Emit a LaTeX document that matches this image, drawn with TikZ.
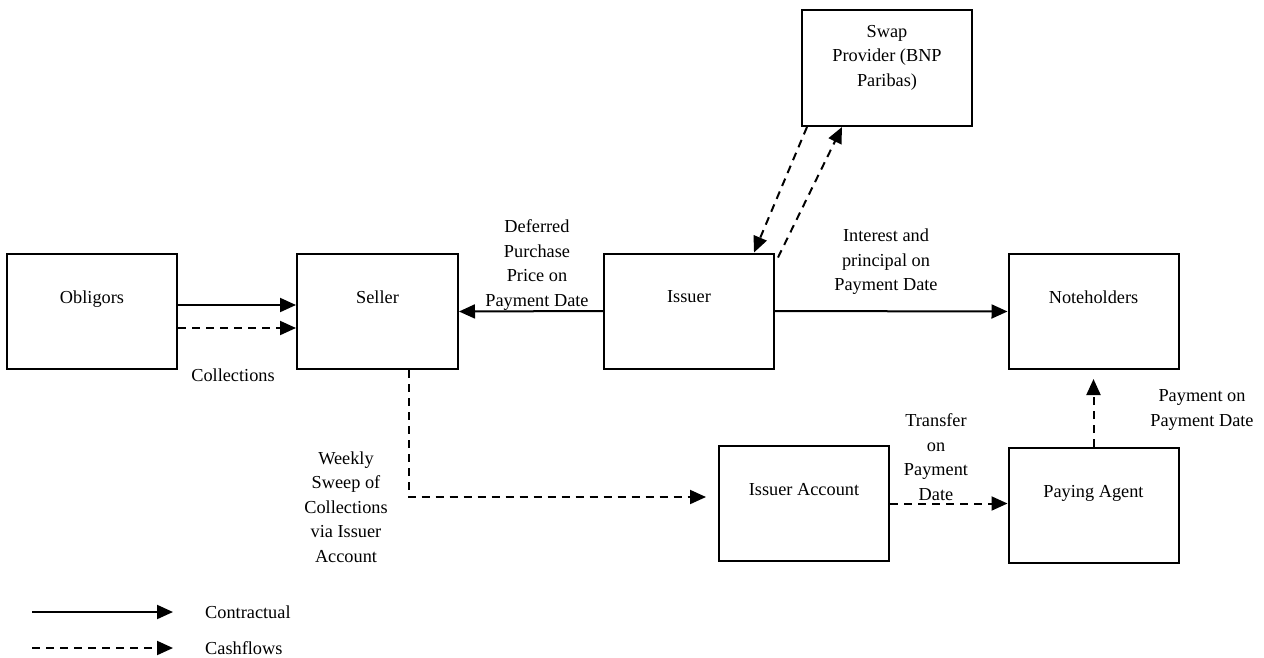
\documentclass[tikz,border=0pt]{standalone}
\usepackage{fontspec}
\setmainfont{Liberation Serif}
\usetikzlibrary{arrows.meta}

\begin{document}
\begin{tikzpicture}[x=1pt,y=-1pt,
    every node/.style={font=\fontsize{18.3}{24.5}\selectfont},
    box/.style={draw,line width=2pt,minimum width=170pt,inner sep=0pt,text height=49pt,text depth=66pt},
    txt/.style={align=center,inner sep=0pt},
    flow/.style={line width=2pt,-{Triangle[length=16pt,width=14pt]}},
    cash/.style={flow,dash pattern=on 8pt off 6pt}]
    \useasboundingbox (0,0) rectangle (1264,657);
    % boxes
    \node[box] (obl) at (92,311.5) {Obligors};
    \node[box,minimum width=161pt] (seller) at (377.5,311.5) {Seller};
    \node[box] (issuer) at (689,311) {Issuer};
    \node[box] (noteh) at (1093.5,311.5) {Noteholders};
    \node[box,align=center,text height=76pt,text depth=40pt] (swap) at (887,68) {Swap\\Provider (BNP\\Paribas)};
    \node[box] (acct) at (804,503.5) {Issuer Account};
    \node[box] (paying) at (1093.5,505.5) {Paying Agent};
    % labels
    \node[txt] (coll) at (233,375) {Collections};
    \node[txt] (dpp) at (537,265) {Deferred\\Purchase\\Price on\\Payment Date};
    \node[txt] (intp) at (886,262) {Interest and\\principal on\\Payment Date};
    \node[txt] (sweep) at (346,507) {Weekly\\Sweep of\\Collections\\via Issuer\\Account};
    \node[txt] (transf) at (936,457) {Transfer\\on\\Payment\\Date};
    \node[txt] (paym) at (1202,410) {Payment on\\Payment Date};
    % connectors
    \draw[flow] ([yshift=6.5pt]obl.east) -- ([yshift=6.5pt]seller.west);
    \draw[cash] ([yshift=-16.5pt]obl.east) -- ([yshift=-16.5pt]seller.west);
    \draw[flow] (issuer.west) -- (seller.east);
    \draw[flow] (issuer.east) -- (noteh.west);
    \draw[cash] ([xshift=6pt]swap.south west) -- ([xshift=-21pt]issuer.north east);
    \draw[cash] ([xshift=3pt,yshift=-5pt]issuer.north east) -- ([xshift=-45pt]swap.south);
    \draw[cash] ([xshift=31pt]seller.south) |- ([xshift=-12pt,yshift=6.5pt]acct.west);
    \draw[cash] (acct.east) -- (acct.east -| paying.west);
    \draw[cash] (paying.north) -- ([yshift=-9pt]noteh.south);
    % legend
    \coordinate (l1) at (32,612);
    \coordinate (l2) at (32,648);
    \node[anchor=west,inner sep=0pt] (contr) at (205,612) {Contractual};
    \node[anchor=west,inner sep=0pt] (cashf) at (205,648) {Cashflows};
    \draw[flow] (l1) -- ([xshift=-32pt]contr.west);
    \draw[cash] (l2) -- ([xshift=-32pt]cashf.west);
\end{tikzpicture}
\end{document}
